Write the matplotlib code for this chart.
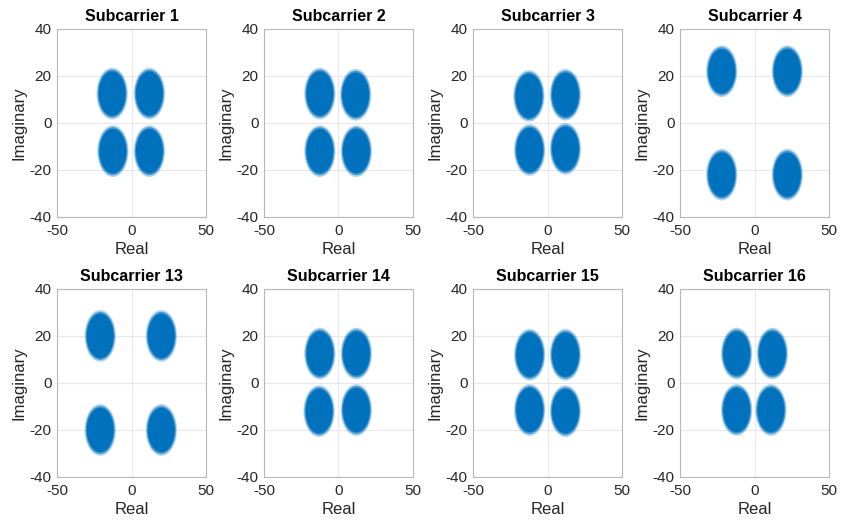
import matplotlib
matplotlib.use("Agg")
from matplotlib import pyplot as plt
from matplotlib.patches import Ellipse

plt.rcParams['font.family'] = ['Liberation Sans', 'DejaVu Sans']
plt.rcParams['axes.unicode_minus'] = False

# subcarrier numbers shown
subcarriers = [1, 2, 3, 4, 13, 14, 15, 16]

# cluster centres (real, imag) for each subcarrier, order: TL, TR, BL, BR
center_re = [
    [-13, 12, -12.5, 12],
    [-12.5, 11.5, -12.5, 12],
    [-12.5, 12, -12, 12],
    [-22, 22, -22, 22],
    [-21, 20, -21, 20],
    [-12.5, 12, -13, 12],
    [-12, 12, -12, 12],
    [-12, 12, -12, 11],
]
center_im = [
    [12.5, 12.5, -12, -12],
    [12.5, 12, -12, -12],
    [11.5, 12, -11.5, -11],
    [22, 22, -22, -22],
    [20, 20, -20, -20],
    [12.5, 12.5, -12, -11.5],
    [12, 12, -11.5, -12],
    [12.5, 12.5, -11.5, -11.5],
]
# outer half width / half height of each cloud
spread_re = [10.5, 10.5, 10.5, 10.5, 10.5, 10.5, 10.5, 10.5]
spread_im = [11, 11, 11, 11, 11, 11, 11, 11]

blue = '#0072BD'

fig = plt.figure(figsize=(8.42, 5.21), dpi=100)

lefts = [0.0677, 0.3135, 0.5618, 0.8076]
bottoms = [0.5835, 0.0845]
w, h = 0.177, 0.361

for k, sc in enumerate(subcarriers):
    ax = fig.add_axes([lefts[k % 4], bottoms[k // 4], w, h])
    for cx, cy in zip(center_re[k], center_im[k]):
        rx, ry = spread_re[k], spread_im[k]
        # sparse fringe then dense core
        ax.add_patch(Ellipse((cx, cy), 2 * rx, 2 * ry,
                             facecolor=blue, edgecolor='none', alpha=0.3))
        ax.add_patch(Ellipse((cx, cy), 2 * rx * 0.93, 2 * ry * 0.93,
                             facecolor=blue, edgecolor='none', alpha=0.6))
        ax.add_patch(Ellipse((cx, cy), 2 * rx * 0.86, 2 * ry * 0.86,
                             facecolor=blue, edgecolor='none'))
    ax.set_xlim(-50, 50)
    ax.set_ylim(-40, 40)
    ax.set_xticks([-50, 0, 50])
    ax.set_yticks([-40, -20, 0, 20, 40])
    ax.grid(True, color='#e8e8e8', linewidth=0.8)
    ax.set_axisbelow(True)
    for s in ax.spines.values():
        s.set_color('#b8b8b8')
        s.set_linewidth(0.8)
    ax.tick_params(length=0, labelsize=11, colors='#262626')
    ax.tick_params(axis='x', pad=5)
    ax.tick_params(axis='y', pad=4)
    ax.set_title('Subcarrier %d' % sc, fontsize=11.5, fontweight='bold',
                 color='#000000', pad=6)
    ax.set_xlabel('Real', fontsize=12, color='#262626', labelpad=3)
    ax.set_ylabel('Imaginary', fontsize=12, color='#262626', labelpad=2)

fig.savefig('out.png', dpi=100)
